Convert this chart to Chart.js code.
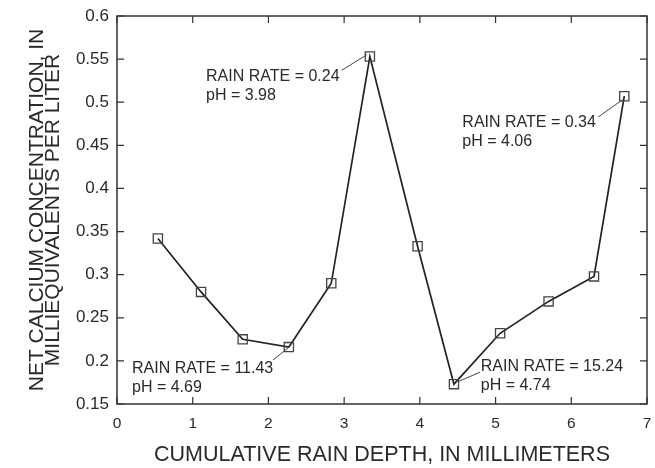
<!DOCTYPE html>
<html>
<head>
<meta charset="utf-8">
<script src="https://cdn.jsdelivr.net/npm/chart.js@4/dist/chart.umd.min.js"></script>
<style>
html,body{margin:0;padding:0;background:#fff;}
#wrap{width:655px;height:468px;position:relative;}
</style>
</head>
<body>
<div id="wrap"><canvas id="c"></canvas></div>
<script>
// Data
const rainDepth = [0.54, 1.11, 1.66, 2.27, 2.83, 3.34, 3.97, 4.45, 5.06, 5.70, 6.30, 6.70];
const calcium   = [0.342, 0.280, 0.225, 0.216, 0.290, 0.553, 0.333, 0.173, 0.232, 0.269, 0.298, 0.507];
const xTicks = [0, 1, 2, 3, 4, 5, 6, 7];
const yTicks = [0.15, 0.2, 0.25, 0.3, 0.35, 0.4, 0.45, 0.5, 0.55, 0.6];
// Annotations: text anchor (data coords, first line centre), leader line from/to (data coords)
const noteLines1 = ["RAIN RATE = 0.24", "pH = 3.98"];
const noteLines2 = ["RAIN RATE = 0.34", "pH = 4.06"];
const noteLines3 = ["RAIN RATE = 11.43", "pH = 4.69"];
const noteLines4 = ["RAIN RATE = 15.24", "pH = 4.74"];
const noteAnchorX = [1.176, 4.561, 0.198, 4.804];
const noteAnchorY = [0.530, 0.476, 0.1905, 0.193];
const leaderFromX = [2.968, 6.357, 2.06, 4.795];
const leaderFromY = [0.537, 0.483, 0.201, 0.187];
const leaderToX = [3.298, 6.679, 2.259, 4.508];
const leaderToY = [0.555, 0.503, 0.215, 0.176];
const notes = [noteLines1, noteLines2, noteLines3, noteLines4];

const FONT = '"Liberation Sans", Arial, Helvetica, sans-serif';
const TXT = '#2a2a2a';

const framePlugin = {
  id: 'frame',
  afterDatasetsDraw(chart) {
    const {ctx, chartArea: a, scales: {x, y}} = chart;
    ctx.save();
    ctx.strokeStyle = '#333';
    ctx.lineWidth = 1.5;
    ctx.strokeRect(a.left, a.top, a.right - a.left, a.bottom - a.top);
    ctx.lineWidth = 1.2;
    const L = 7;
    ctx.beginPath();
    x.ticks.forEach(t => {
      const px = x.getPixelForValue(t.value);
      ctx.moveTo(px, a.bottom); ctx.lineTo(px, a.bottom - L);
      ctx.moveTo(px, a.top); ctx.lineTo(px, a.top + L);
    });
    y.ticks.forEach(t => {
      const py = y.getPixelForValue(t.value);
      ctx.moveTo(a.left, py); ctx.lineTo(a.left + L, py);
      ctx.moveTo(a.right, py); ctx.lineTo(a.right - L, py);
    });
    ctx.stroke();
    // annotations
    ctx.font = '16px ' + FONT;
    ctx.fillStyle = TXT;
    ctx.textAlign = 'left';
    ctx.textBaseline = 'middle';
    notes.forEach((lines, i) => {
      const px = x.getPixelForValue(noteAnchorX[i]);
      const py = y.getPixelForValue(noteAnchorY[i]);
      lines.forEach((s, j) => ctx.fillText(s, px, py + j * 19));
      ctx.beginPath();
      ctx.lineWidth = 1;
      ctx.strokeStyle = '#444';
      ctx.moveTo(x.getPixelForValue(leaderFromX[i]), y.getPixelForValue(leaderFromY[i]));
      ctx.lineTo(x.getPixelForValue(leaderToX[i]), y.getPixelForValue(leaderToY[i]));
      ctx.stroke();
    });
    ctx.restore();
  }
};

new Chart(document.getElementById('c'), {
  type: 'scatter',
  data: {
    datasets: [{
      data: rainDepth.map((v, i) => ({x: v, y: calcium[i]})),
      showLine: true,
      borderColor: '#222',
      borderWidth: 1.7,
      pointStyle: 'rect',
      pointRadius: 6.5,
      pointBorderWidth: 1.3,
      pointBorderColor: '#444',
      pointBackgroundColor: 'rgba(255,255,255,0)',
      tension: 0
    }]
  },
  options: {
    responsive: true,
    maintainAspectRatio: false,
    animation: false,
    layout: {padding: {top: 16, right: 8, left: 0, bottom: 0}},
    plugins: {legend: {display: false}, tooltip: {enabled: false}},
    scales: {
      x: {
        type: 'linear', min: 0, max: 7,
        afterBuildTicks: s => { s.ticks = xTicks.map(v => ({value: v})); },
        afterFit: s => { s.height = 64; s.paddingLeft = 0; s.paddingRight = 0; },
        grid: {display: false, drawTicks: false},
        border: {display: false},
        ticks: {color: TXT, font: {size: 15.5, family: FONT}, padding: 10, maxRotation: 0},
        title: {display: true, text: 'CUMULATIVE RAIN DEPTH, IN MILLIMETERS', color: TXT,
                font: {size: 21.5, family: FONT, lineHeight: 1.2}, padding: {top: 0, bottom: 0}}
      },
      y: {
        type: 'linear', min: 0.15, max: 0.6,
        afterBuildTicks: s => { s.ticks = yTicks.map(v => ({value: v})); },
        afterFit: s => { s.width = 117; s.paddingTop = 0; s.paddingBottom = 0; },
        grid: {display: false, drawTicks: false},
        border: {display: false},
        ticks: {color: TXT, font: {size: 17, family: FONT}, padding: 8,
                callback: v => String(+v.toFixed(2))},
        title: {display: true, text: ['NET CALCIUM CONCENTRATION, IN', 'MILLIEQUIVALENTS PER LITER'],
                color: TXT, font: {size: 21, family: FONT, lineHeight: 0.78}, padding: {top: 29, bottom: 0}}
      }
    }
  },
  plugins: [framePlugin]
});
</script>
</body>
</html>
